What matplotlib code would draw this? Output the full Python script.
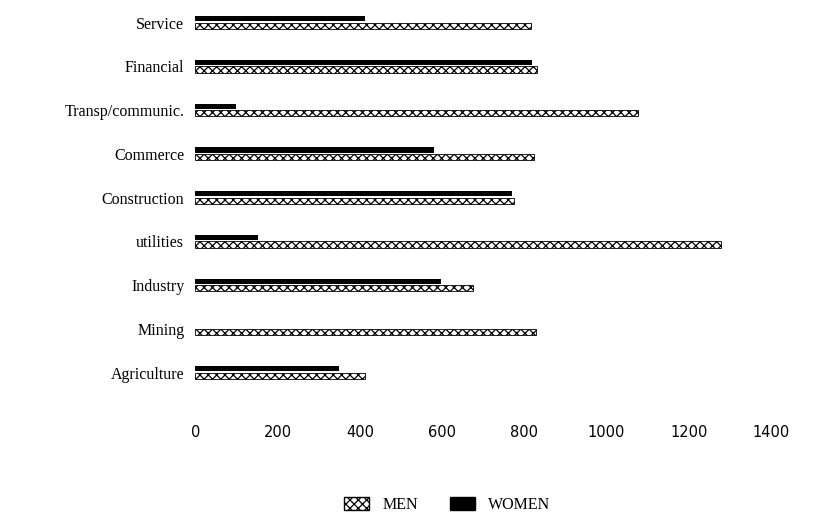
import numpy as np
import matplotlib.pyplot as plt
from matplotlib.patches import Patch

cats = ['Agriculture', 'Mining', 'Industry', 'utilities', 'Construction',
        'Commerce', 'Transp/communic.', 'Financial', 'Service']
men = [412, 829, 676, 1279, 774, 824, 1076, 831, 817]
women = [350, 0, 598, 152, 771, 581, 98, 819, 412]
ticks = [0, 200, 400, 600, 800, 1000, 1200, 1400]

plt.rcParams['hatch.linewidth'] = 0.9
fig = plt.figure(figsize=(8.28, 5.25), dpi=100)
ax = fig.add_axes([0.236, 0.257, 0.695, 0.733])

y = np.arange(len(cats))
h = 0.12
ax.barh(y + 0.09, women, height=h, color='black', linewidth=0)
ax.barh(y - 0.07, men, height=0.14, color='white', edgecolor='black', hatch='xxxx', linewidth=0.6)

ax.set_xlim(0, 1400)
ax.set_ylim(-0.4, 8.4)
ax.set_yticks(y)
ax.set_yticklabels(cats, family='Liberation Serif', fontsize=11.5)
ax.set_xticks(ticks)
ax.set_xticklabels([str(t) for t in ticks], family='DejaVu Sans', fontsize=10.5)
ax.tick_params(axis='both', length=0)
ax.tick_params(axis='x', pad=25)
ax.tick_params(axis='y', pad=8)
for s in ax.spines.values():
    s.set_visible(False)

handles = [Patch(facecolor='white', edgecolor='black', hatch='xxxx', label='MEN'),
           Patch(facecolor='black', edgecolor='black', label='WOMEN')]
fig.legend(handles=handles, loc='center', bbox_to_anchor=(0.54, 0.038), ncol=2,
           frameon=False, prop={'family': 'Liberation Serif', 'size': 11.5},
           handlelength=1.6, handleheight=0.8, columnspacing=2.0, handletextpad=0.8)

fig.savefig('out.png', dpi=100)
